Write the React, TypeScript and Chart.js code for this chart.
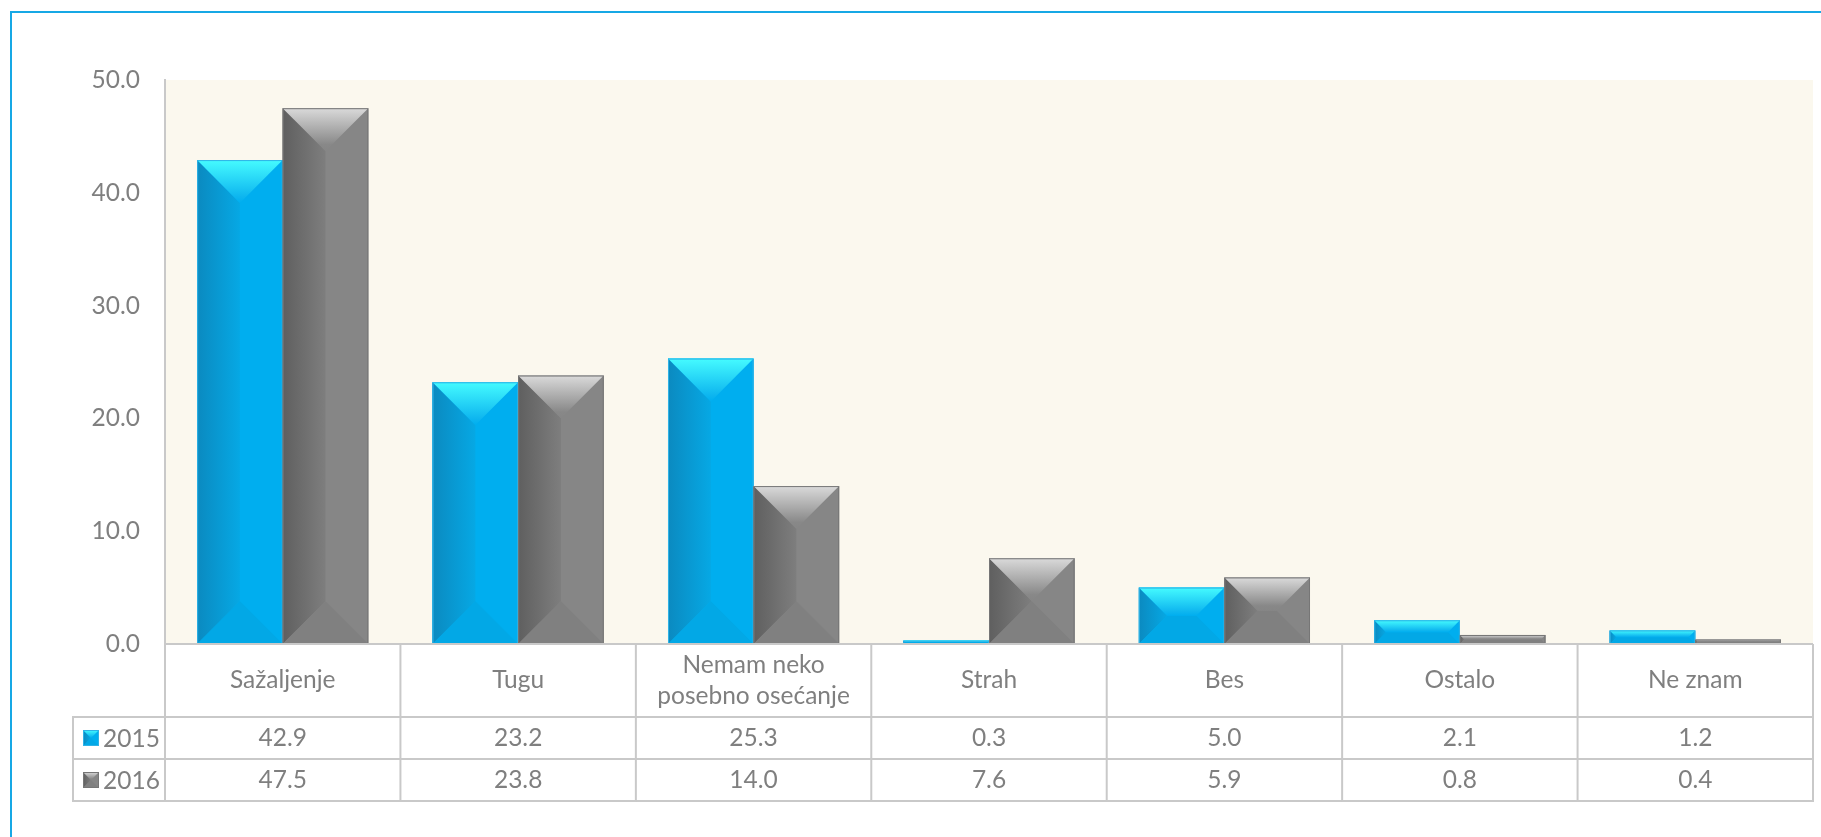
import React, { useEffect, useRef } from "react";
import { Chart, registerables } from "chart.js";

Chart.register(...registerables);

// ---- data ----
const categories: (string | string[])[] = [
  "Sažaljenje",
  "Tugu",
  ["Nemam neko", "posebno osećanje"],
  "Strah",
  "Bes",
  "Ostalo",
  "Ne znam",
];
const seriesNames = ["2015", "2016"];
const values2015 = [42.9, 23.2, 25.3, 0.3, 5.0, 2.1, 1.2];
const values2016 = [47.5, 23.8, 14.0, 7.6, 5.9, 0.8, 0.4];
const yMin = 0;
const yMax = 50;
const yStep = 10;

// ---- styles ----
const FONT = "Lato, 'Open Sans', sans-serif";
const FONT_SIZE = 24.5;
const TEXT = "#7F7F7F";
const GRID = "#C9C9C9";
const PLOT_BG = "#FBF8EE";
const FRAME = "#17A8E5";

type Pal = {
  main: string;
  dark: string;
  mid: string;
  topA: string;
  topB: string;
  bottom: string;
  border: string;
};

const palettes: Pal[] = [
  { main: "#00AEEF", dark: "#0B8AC0", mid: "#06A8E4", topA: "#45FBFF", topB: "#0EB6EF", bottom: "#02A8E6", border: "#2FB2E6" },
  { main: "#868686", dark: "#5F5F5F", mid: "#7E7E7E", topA: "#DADADA", topB: "#888888", bottom: "#808080", border: "#767676" },
];

function poly(ctx: CanvasRenderingContext2D, pts: number[]) {
  ctx.beginPath();
  ctx.moveTo(pts[0], pts[1]);
  for (let i = 2; i < pts.length; i += 2) ctx.lineTo(pts[i], pts[i + 1]);
  ctx.closePath();
  ctx.fill();
}

function drawBevel(ctx: CanvasRenderingContext2D, L: number, T: number, R: number, B: number, p: Pal, maxD: number) {
  const w = R - L;
  const h = B - T;
  if (w <= 0 || h <= 0.2) return;
  const d = Math.min(maxD, w / 2, h / 2);
  ctx.save();
  ctx.fillStyle = p.main;
  ctx.fillRect(L, T, w, h);
  // left face
  let g = ctx.createLinearGradient(L, 0, L + Math.max(d, 1), 0);
  g.addColorStop(0, p.dark);
  g.addColorStop(1, p.mid);
  ctx.fillStyle = g;
  poly(ctx, [L, T, L + d, T + d, L + d, B - d, L, B]);
  // bottom face
  ctx.fillStyle = p.bottom;
  poly(ctx, [L, B, L + d, B - d, R - d, B - d, R, B]);
  // top face
  g = ctx.createLinearGradient(0, T, 0, T + Math.max(d, 1));
  g.addColorStop(0, p.topA);
  g.addColorStop(0.85, p.topB);
  g.addColorStop(1, p.main);
  ctx.fillStyle = g;
  poly(ctx, [L, T, R, T, R - d, T + d, L + d, T + d]);
  // border
  if (h > 2) {
    ctx.strokeStyle = p.border;
    ctx.lineWidth = 1;
    ctx.strokeRect(L + 0.5, T + 0.5, w - 1, h - 1);
  }
  ctx.restore();
}

const backgroundPlugin = {
  id: "plotBg",
  beforeDraw(chart: any) {
    const { ctx, chartArea: ca, width, height } = chart;
    ctx.save();
    ctx.fillStyle = "#FFFFFF";
    ctx.fillRect(0, 0, width, height);
    // outer frame (left and top edges visible)
    ctx.fillStyle = FRAME;
    ctx.fillRect(10, 11, width - 10, 2);
    ctx.fillRect(10, 11, 2, height - 11);
    ctx.fillStyle = PLOT_BG;
    ctx.fillRect(ca.left, ca.top, ca.right - ca.left, ca.bottom - ca.top);
    ctx.restore();
  },
};

const bevelPlugin = {
  id: "bevel",
  afterDatasetsDraw(chart: any) {
    const ctx = chart.ctx as CanvasRenderingContext2D;
    chart.data.datasets.forEach((_ds: any, di: number) => {
      const meta = chart.getDatasetMeta(di);
      meta.data.forEach((el: any) => {
        const { x, y, base, width } = el.getProps(["x", "y", "base", "width"], true);
        drawBevel(ctx, x - width / 2, Math.min(y, base), x + width / 2, Math.max(y, base), palettes[di], 43);
      });
    });
  },
};

const tablePlugin = {
  id: "dataTable",
  afterDraw(chart: any) {
    const ctx = chart.ctx as CanvasRenderingContext2D;
    const ca = chart.chartArea;
    const xs = chart.scales.x;
    const n = categories.length;
    const cw = (ca.right - ca.left) / n;
    const axisY = ca.bottom;
    const r0 = axisY + 73;
    const r1 = r0 + 42;
    const r2 = r1 + 42;
    const legL = ca.left - 92;
    ctx.save();
    ctx.strokeStyle = GRID;
    ctx.lineWidth = 2;
    const line = (x1: number, y1: number, x2: number, y2: number) => {
      ctx.beginPath();
      ctx.moveTo(x1, y1);
      ctx.lineTo(x2, y2);
      ctx.stroke();
    };
    line(ca.left - 1, axisY, ca.right, axisY);
    line(legL, r0, ca.right, r0);
    line(legL, r1, ca.right, r1);
    line(legL, r2, ca.right, r2);
    line(legL, r0 - 1, legL, r2 + 1);
    for (let i = 0; i <= n; i++) {
      const bx = ca.left + i * cw;
      line(bx, axisY, bx, r2 + 1);
    }
    ctx.fillStyle = TEXT;
    ctx.font = `${FONT_SIZE}px ${FONT}`;
    ctx.textAlign = "center";
    ctx.textBaseline = "middle";
    const lh = 31;
    categories.forEach((c, i) => {
      const cx = xs.getPixelForValue(i);
      const lines = Array.isArray(c) ? c : [c];
      const cy = (axisY + r0) / 2;
      lines.forEach((t, k) => {
        ctx.fillText(t, cx, cy + (k - (lines.length - 1) / 2) * lh);
      });
      ctx.fillText(values2015[i].toFixed(1), cx, (r0 + r1) / 2);
      ctx.fillText(values2016[i].toFixed(1), cx, (r1 + r2) / 2);
    });
    // legend keys
    const rowsC = [(r0 + r1) / 2, (r1 + r2) / 2];
    seriesNames.forEach((name, k) => {
      const cy = rowsC[k];
      drawBevel(ctx, legL + 10, cy - 8, legL + 26, cy + 8, palettes[k], 8);
      ctx.fillStyle = TEXT;
      ctx.textAlign = "left";
      ctx.fillText(name, legL + 30, cy + 1);
    });
    ctx.restore();
  },
};

export default function App() {
  const ref = useRef<HTMLCanvasElement>(null);
  useEffect(() => {
    document.body.style.margin = "0";
    document.body.style.overflow = "hidden";
    document.documentElement.style.overflow = "hidden";
    const chart = new Chart(ref.current as HTMLCanvasElement, {
      type: "bar",
      data: {
        labels: categories as any,
        datasets: [
          {
            label: seriesNames[0],
            data: values2015,
            backgroundColor: palettes[0].main,
            borderWidth: 0,
            categoryPercentage: 0.727,
            barPercentage: 1,
          },
          {
            label: seriesNames[1],
            data: values2016,
            backgroundColor: palettes[1].main,
            borderWidth: 0,
            categoryPercentage: 0.727,
            barPercentage: 1,
          },
        ],
      },
      options: {
        responsive: false,
        animation: false,
        devicePixelRatio: 1,
        layout: { padding: { top: 80, right: 8, bottom: 193, left: 0 } },
        plugins: {
          legend: { display: false },
          tooltip: { enabled: false },
          title: { display: false },
        },
        scales: {
          x: {
            display: false,
          },
          y: {
            min: yMin,
            max: yMax,
            ticks: {
              stepSize: yStep,
              color: TEXT,
              padding: 25,
              font: { family: FONT, size: FONT_SIZE },
              callback: (v: any) => Number(v).toFixed(1),
            },
            grid: { display: false, drawTicks: false },
            border: { display: true, color: GRID, width: 2 },
            afterFit: (s: any) => {
              s.width = 165;
            },
          },
        },
      },
      plugins: [backgroundPlugin, bevelPlugin, tablePlugin],
    });
    return () => chart.destroy();
  }, []);
  return (
    <div style={{ position: "relative", width: 1821, height: 837, overflow: "hidden", background: "#fff" }}>
      <canvas
        ref={ref}
        width={1821}
        height={837}
        style={{ position: "absolute", left: 0, top: 0, width: 1821, height: 837 }}
      />
    </div>
  );
}
